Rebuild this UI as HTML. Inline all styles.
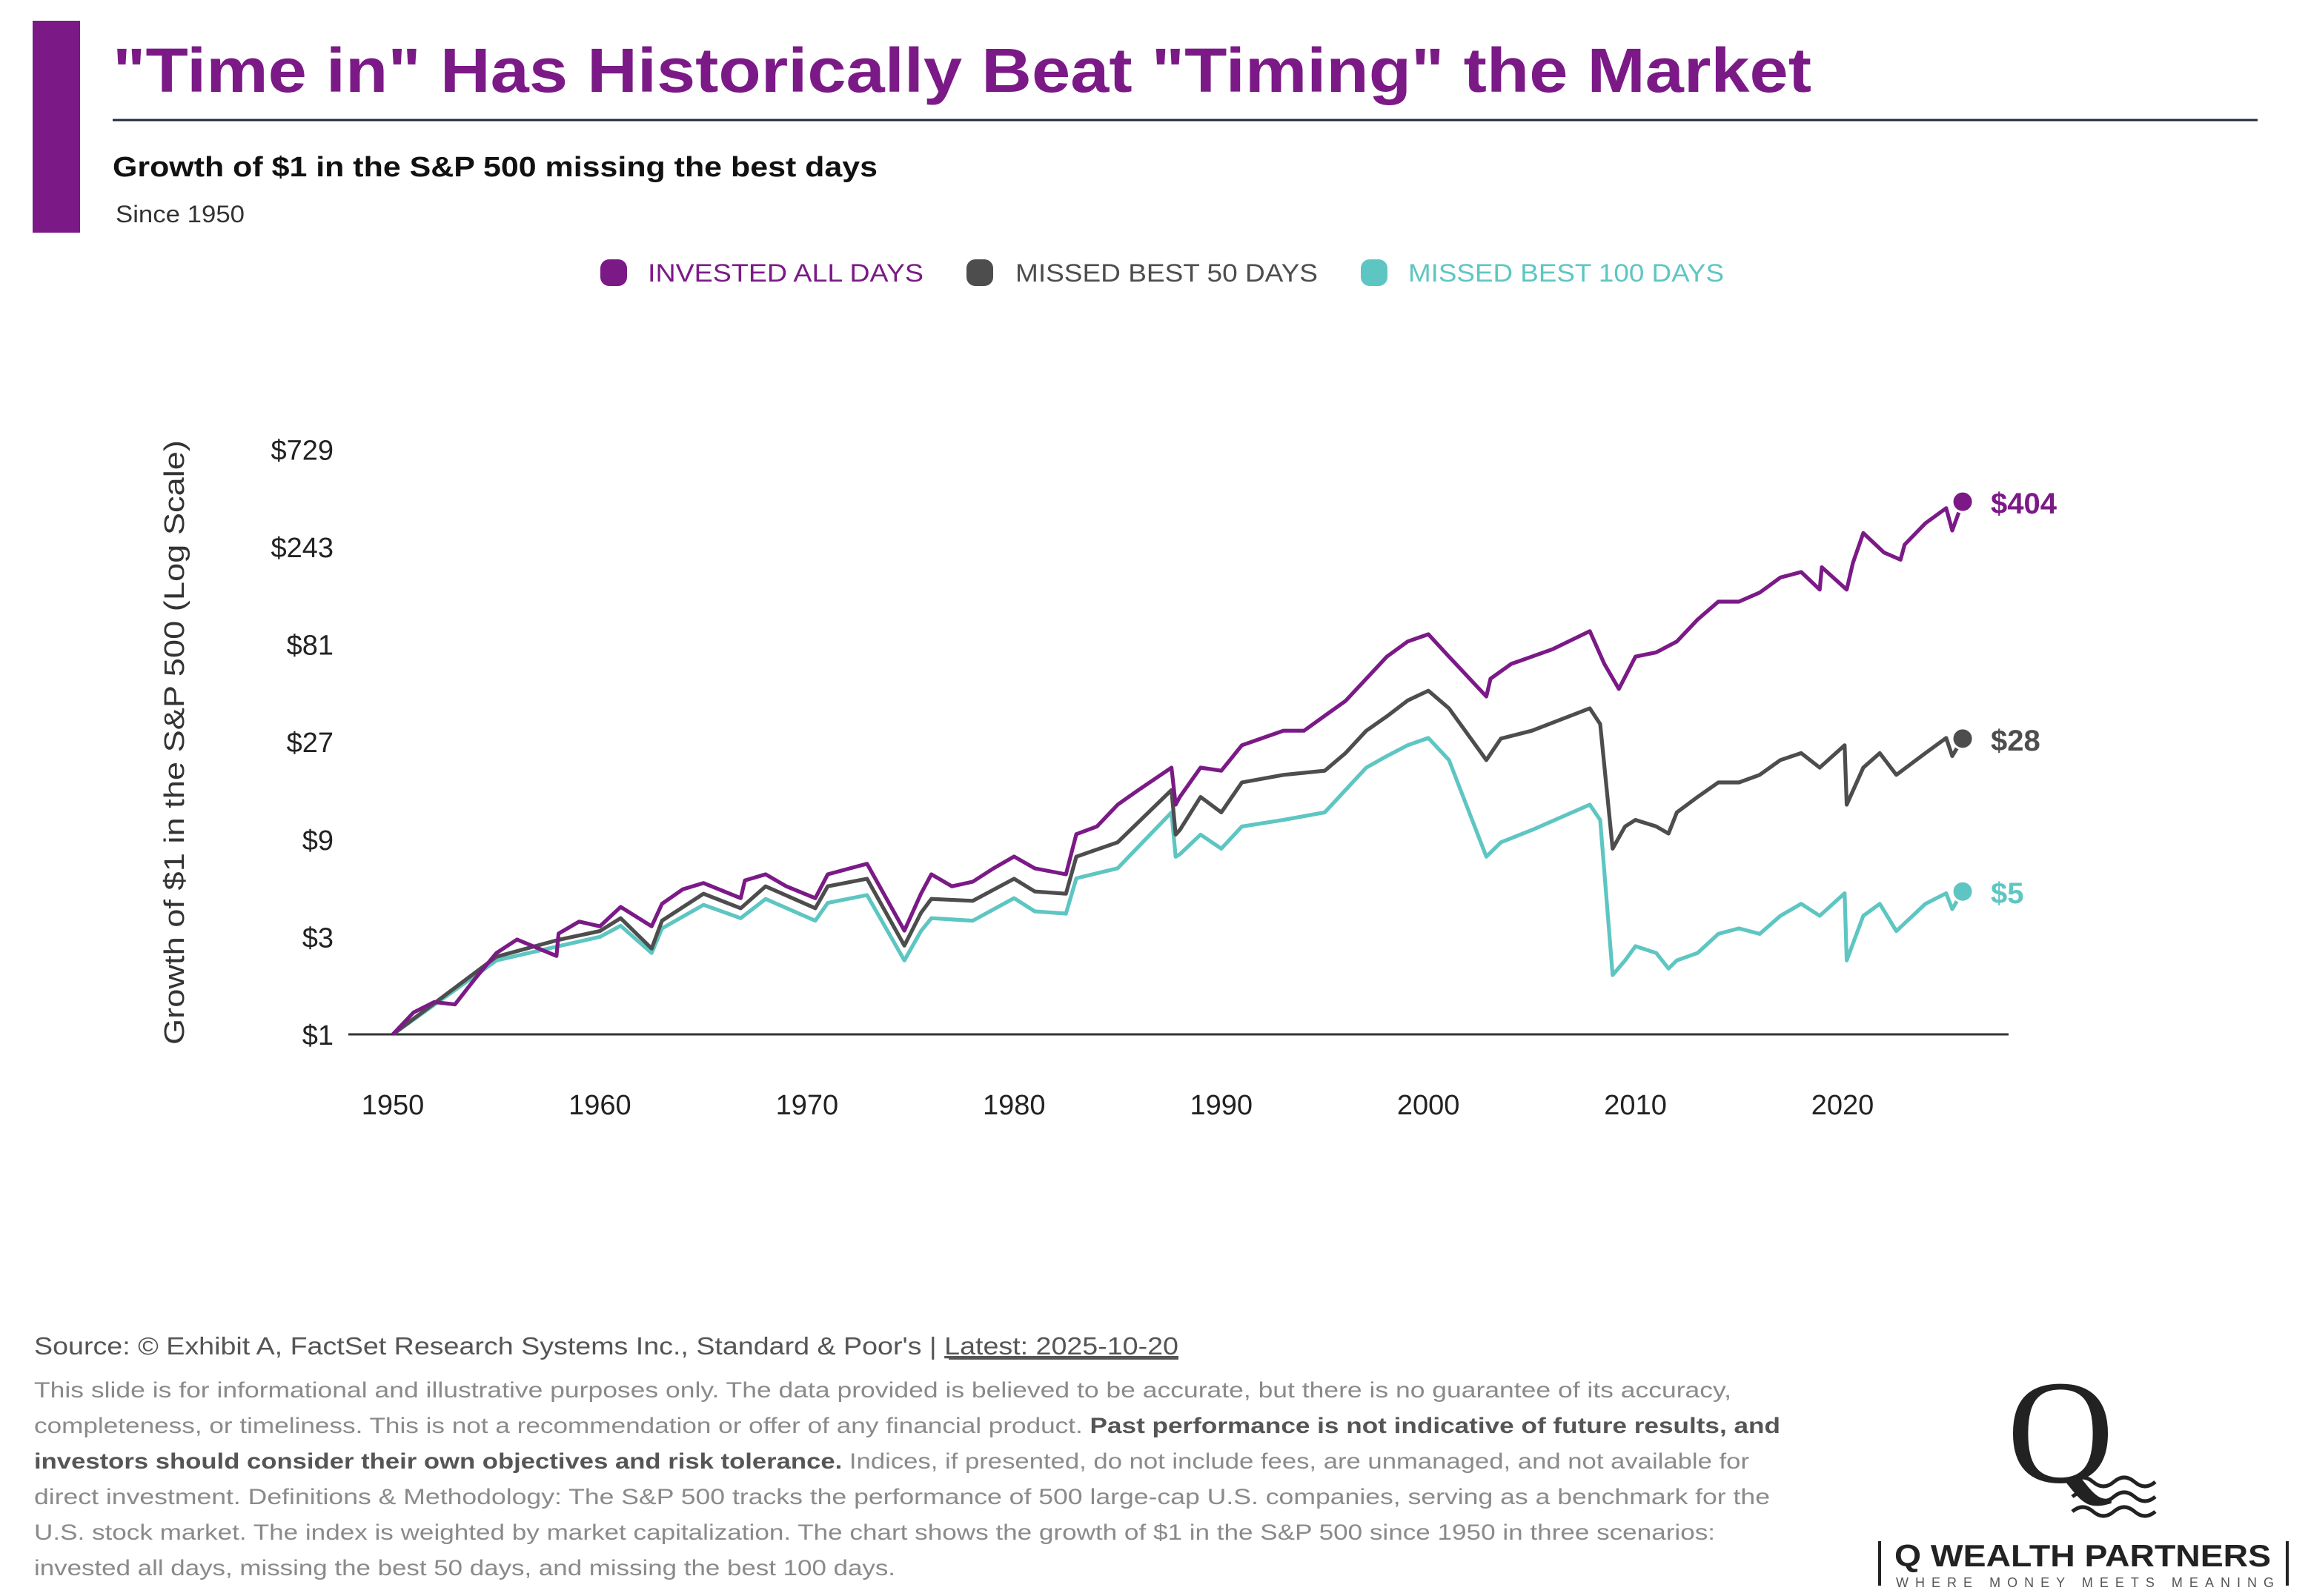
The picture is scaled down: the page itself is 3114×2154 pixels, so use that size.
<!DOCTYPE html>
<html><head><meta charset="utf-8"><style>
html,body{margin:0;padding:0;background:#fff}
svg{display:block;font-family:"Liberation Sans",sans-serif}
</style></head><body>
<svg id="chart" width="3114" height="2154" viewBox="0 0 1557 1077" xmlns="http://www.w3.org/2000/svg">
<rect x="22" y="14" width="32" height="143" fill="#7b1a87"/>
<text x="76" y="62" font-size="42" font-weight="bold" fill="#7b1a87" textLength="1146" lengthAdjust="spacingAndGlyphs">"Time in" Has Historically Beat "Timing" the Market</text>
<line x1="76" y1="81" x2="1523" y2="81" stroke="#1f2a44" stroke-width="1.5"/>
<text x="76" y="119" font-size="19" font-weight="bold" fill="#111" textLength="516" lengthAdjust="spacingAndGlyphs">Growth of $1 in the S&amp;P 500 missing the best days</text>
<text x="78" y="150" font-size="16" fill="#333" textLength="87" lengthAdjust="spacingAndGlyphs">Since 1950</text>

<g>
<g><rect x="405" y="175" width="18" height="18" rx="6" fill="#7b1a87"/><text x="437" y="190" font-size="17" fill="#7b1a87" textLength="186" lengthAdjust="spacingAndGlyphs">INVESTED ALL DAYS</text></g>
<g><rect x="652" y="175" width="18" height="18" rx="6" fill="#4d4d4d"/><text x="685" y="190" font-size="17" fill="#4d4d4d" textLength="204" lengthAdjust="spacingAndGlyphs">MISSED BEST 50 DAYS</text></g>
<g><rect x="918" y="175" width="18" height="18" rx="6" fill="#5ec6c2"/><text x="950" y="190" font-size="17" fill="#5ec6c2" textLength="213" lengthAdjust="spacingAndGlyphs">MISSED BEST 100 DAYS</text></g>
</g>

<text transform="translate(124,501) rotate(-90)" text-anchor="middle" font-size="19" fill="#333" textLength="408" lengthAdjust="spacingAndGlyphs">Growth of $1 in the S&amp;P 500 (Log Scale)</text>
<g id="yticks"></g>
<g id="xticks"></g>
<line x1="235" y1="698" x2="1355" y2="698" stroke="#333" stroke-width="1.5"/>
<g id="series"></g>
<g id="endlabels"></g>

<g>
<text x="23" y="914" font-size="16.5" fill="#555" textLength="772" lengthAdjust="spacingAndGlyphs">Source: © Exhibit A, FactSet Research Systems Inc., Standard &amp; Poor's | <tspan text-decoration="underline">Latest: 2025-10-20</tspan></text>
<line x1="640" y1="917" x2="795" y2="917" stroke="#555" stroke-width="1"/>
<g font-size="15" fill="#8a8a8a">
<text x="23" y="943" textLength="1145" lengthAdjust="spacingAndGlyphs">This slide is for informational and illustrative purposes only. The data provided is believed to be accurate, but there is no guarantee of its accuracy,</text>
<text x="23" y="967" textLength="1178" lengthAdjust="spacingAndGlyphs">completeness, or timeliness. This is not a recommendation or offer of any financial product. <tspan fill="#555" font-weight="bold">Past performance is not indicative of future results, and</tspan></text>
<text x="23" y="991" textLength="1157" lengthAdjust="spacingAndGlyphs"><tspan fill="#555" font-weight="bold">investors should consider their own objectives and risk tolerance.</tspan> Indices, if presented, do not include fees, are unmanaged, and not available for</text>
<text x="23" y="1015" textLength="1171" lengthAdjust="spacingAndGlyphs">direct investment. Definitions &amp; Methodology: The S&amp;P 500 tracks the performance of 500 large-cap U.S. companies, serving as a benchmark for the</text>
<text x="23" y="1039" textLength="1134" lengthAdjust="spacingAndGlyphs">U.S. stock market. The index is weighted by market capitalization. The chart shows the growth of $1 in the S&amp;P 500 since 1950 in three scenarios:</text>
<text x="23" y="1063" textLength="581" lengthAdjust="spacingAndGlyphs">invested all days, missing the best 50 days, and missing the best 100 days.</text>
</g>
</g>

<g>
<text x="1390" y="1000" font-family="'Liberation Serif',serif" font-size="100" text-anchor="middle" fill="#222">Q</text>
<g fill="none" stroke="#222" stroke-width="2.5">
<path d="M1398 1000 q7 -6 14 0 t14 0 t14 0 t14 0"/>
<path d="M1398 1010 q7 -6 14 0 t14 0 t14 0 t14 0"/>
<path d="M1398 1020 q7 -6 14 0 t14 0 t14 0 t14 0"/>
</g>
<line x1="1268" y1="1040" x2="1268" y2="1070" stroke="#222" stroke-width="2"/>
<line x1="1543" y1="1040" x2="1543" y2="1070" stroke="#222" stroke-width="2"/>
<text x="1278" y="1057" font-size="21" font-weight="bold" fill="#222" textLength="254" lengthAdjust="spacingAndGlyphs">Q WEALTH PARTNERS</text>
<text x="1279" y="1071" font-size="9" fill="#555" textLength="255" lengthAdjust="spacing">WHERE MONEY MEETS MEANING</text>
</g>
</svg>
<script>
const yearsA=[1950,1951,1952,1953,1954,1955,1956,1957.9,1958,1959,1960,1961,1962.5,1963,1964,1965,1966.8,1967,1968,1969,1970.4,1971,1972.9,1974.7,1975.5,1976,1977,1978,1979,1980,1981,1982.5,1983,1984,1985,1986,1987.6,1987.8,1988,1989,1990,1991,1992,1993,1994,1995,1996,1997,1998,1999,2000,2001,2002.8,2003,2004,2005,2006,2007.8,2008.5,2009.2,2010,2011,2012,2013,2014,2015,2016,2017,2018,2018.9,2019,2020.2,2020.5,2021,2022,2022.8,2023,2024,2025,2025.3,2025.8];
const investedAll=[1,1.28,1.44,1.4,1.89,2.5,2.91,2.42,3.11,3.56,3.38,4.2,3.38,4.35,5.13,5.5,4.64,5.67,6.07,5.3,4.64,6.07,6.83,3.22,4.88,6.07,5.3,5.58,6.49,7.42,6.49,6.07,9.54,10.4,13.3,15.7,20.2,13.3,14.5,20.2,19.5,26,28.2,30.6,30.6,36.2,42.8,55,70.5,83.6,90.8,70.5,45,55,65,70.5,76.6,93.9,65,49,70.5,74,83.6,107,131,131,145,172,183,150,193,150,203,284,228,210,249,317,376,292,404];
const yearsB=[1950,1955,1958,1960,1961,1962.5,1963,1965,1966.8,1968,1970.4,1971,1972.9,1974.7,1975.5,1976,1978,1980,1981,1982.5,1983,1985,1987.6,1987.8,1988,1989,1990,1991,1993,1995,1996,1997,1998,1999,2000,2001,2002.8,2003.5,2005,2007.8,2008.3,2008.9,2009.5,2010,2011,2011.6,2012,2013,2014,2015,2016,2017,2018,2018.9,2020.1,2020.2,2021,2021.8,2022.6,2024,2025,2025.3,2025.8];
const missed50=[1,2.4,2.9,3.2,3.7,2.63,3.6,4.88,4.14,5.3,4.14,5.3,5.77,2.72,3.93,4.6,4.5,5.77,5,4.88,7.4,8.7,15.7,9.5,10,14.5,12.2,17.1,18.6,19.5,23.8,30.6,36,43,48,39.4,22,28,30.6,39.4,33,8.1,10.4,11.2,10.4,9.6,12.2,14.5,17.1,17.1,18.6,22,23.8,20.2,26,13.3,20.2,23.8,18.6,23.8,28.2,23,28];
const missed100=[1,2.3,2.7,3.0,3.4,2.5,3.3,4.3,3.7,4.6,3.6,4.4,4.8,2.3,3.2,3.7,3.6,4.64,4.0,3.9,5.8,6.5,12.2,7.4,7.6,9.5,8.1,10.4,11.2,12.2,15.7,20.2,23,26,28.2,22,7.4,8.7,10,13.3,11.2,1.95,2.3,2.7,2.5,2.1,2.3,2.5,3.1,3.3,3.1,3.8,4.35,3.8,4.9,2.3,3.8,4.35,3.2,4.35,4.9,4.1,5];
const yTickVals=[1,3,9,27,81,243,729];
const yTickLabels=["$1","$3","$9","$27","$81","$243","$729"];
const xTickVals=[1950,1960,1970,1980,1990,2000,2010,2020];
const endLabels=["$404","$28","$5"];

const NS="http://www.w3.org/2000/svg";
function xS(yr){return 265+(yr-1950)*(1243-265)/70;}
function yS(v){return 698-65.8*Math.log(v)/Math.log(3);}
function mk(tag,attrs,parent){const e=document.createElementNS(NS,tag);for(const k in attrs)e.setAttribute(k,attrs[k]);parent.appendChild(e);return e;}

const yg=document.getElementById('yticks');
yTickVals.forEach((v,i)=>{
  const t=mk('text',{x:225,y:yS(v)+7,'text-anchor':'end','font-size':19,fill:'#222'},yg);
  
  
  t.textContent=yTickLabels[i];
});
const xg=document.getElementById('xticks');
xTickVals.forEach(v=>{
  const t=mk('text',{x:xS(v),y:752,'text-anchor':'middle','font-size':19,fill:'#222'},xg);
  
  
  t.textContent=String(v);
});

const sg=document.getElementById('series');
const eg=document.getElementById('endlabels');
const defs=[
  {yrs:yearsB,vals:missed100,color:'#5ec6c2',name:'missed-100-line',lbl:0},
  {yrs:yearsB,vals:missed50,color:'#4d4d4d',name:'missed-50-line',lbl:0},
  {yrs:yearsA,vals:investedAll,color:'#7b1a87',name:'invested-all-line',lbl:0}
];
const labelIdx={'invested-all-line':0,'missed-50-line':1,'missed-100-line':2};
defs.forEach(s=>{
  const d=s.yrs.map((yr,i)=>(i?'L':'M')+xS(yr).toFixed(1)+' '+yS(s.vals[i]).toFixed(1)).join(' ');
  const p=mk('path',{d:d,fill:'none',stroke:s.color,'stroke-width':2.6,'stroke-linejoin':'round'},sg);
  
  
  const last=s.vals[s.vals.length-1], ly=yS(last), lx=xS(s.yrs[s.yrs.length-1]);
  const c=mk('circle',{cx:lx,cy:ly,r:7,fill:s.color,stroke:'#fff','stroke-width':1.5},sg);
  
  
  const t=mk('text',{x:1343,y:ly+8,'font-size':20,'font-weight':'bold',fill:s.color},eg);
  
  
  t.textContent=endLabels[labelIdx[s.name]];
});
</script>
</body></html>
